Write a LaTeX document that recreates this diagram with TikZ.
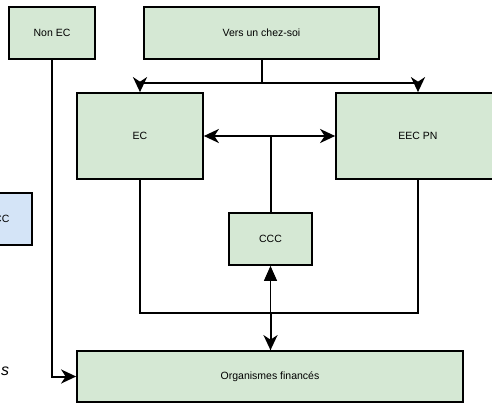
\documentclass[tikz,border=0pt]{standalone}
\usepackage{fontspec}
\setmainfont{Liberation Sans}
\usetikzlibrary{arrows.meta}
\definecolor{gfill}{HTML}{D5E8D4}
\definecolor{bfill}{HTML}{D4E4F7}
\tikzset{
  box/.style={draw=black, line width=1.7pt, fill=gfill, inner sep=0pt, font=\fontsize{10.5}{12}\selectfont},
  bluebox/.style={box, fill=bfill},
  conn/.style={line width=2pt},
  thinconn/.style={line width=1.1pt},
  classic/.style={-{Stealth[length=15pt,width=14pt,inset=4.5pt]}},
  blockarr/.style={-{Triangle[length=15pt,width=13pt]}},
}
\begin{document}
\begin{tikzpicture}[x=1pt,y=-1pt]
\useasboundingbox (0,0) rectangle (492,404);
\clip (0,0) rectangle (492,404);
\fill[white] (0,0) rectangle (492,404);
\node[box, minimum width=86pt, minimum height=52pt] (nonec) at (52,33) {Non EC};
\node[box, minimum width=235pt, minimum height=52pt] (vers) at (261.5,33) {Vers un chez-soi};
\node[box, minimum width=126pt, minimum height=86pt] (ec) at (140,136) {EC};
\node[box, minimum width=164pt, minimum height=86pt] (eec) at (418,136) {EEC PN};
\node[box, minimum width=83pt, minimum height=52pt] (ccc) at (270.5,239) {CCC};
\node[box, minimum width=386pt, minimum height=51pt] (org) at (270,376.5) {Organismes financés};
\node[bluebox, minimum width=68pt, minimum height=52pt] (blue) at (-2,219) {CCC};
\node[font=\fontsize{16}{18}\selectfont\itshape, inner sep=0pt, anchor=west] (stxt) at (1,371) {s};

\coordinate (j1) at (262,83);
\coordinate (j2) at (270.5,136);
\coordinate (j3) at (270.5,313);

\draw[conn] (vers.south -| j1) -- (j1);
\draw[conn, classic] (j1) -| (ec.north);
\draw[conn, classic] (j1) -| (eec.north);
\draw[conn, classic] (j2) -- (ec.east);
\draw[conn, classic] (j2) -- (eec.west);
\draw[conn] (j2) -- (ccc.north);
\draw[conn] (ec.south) |- (j3) -| (eec.south);
\draw[conn, classic] (j3) -- (j3 |- org.north);
\draw[thinconn, blockarr] (ccc.south |- org.north) -- (ccc.south);
\draw[conn, classic] (nonec.south) |- (org.west);
\end{tikzpicture}
\end{document}
